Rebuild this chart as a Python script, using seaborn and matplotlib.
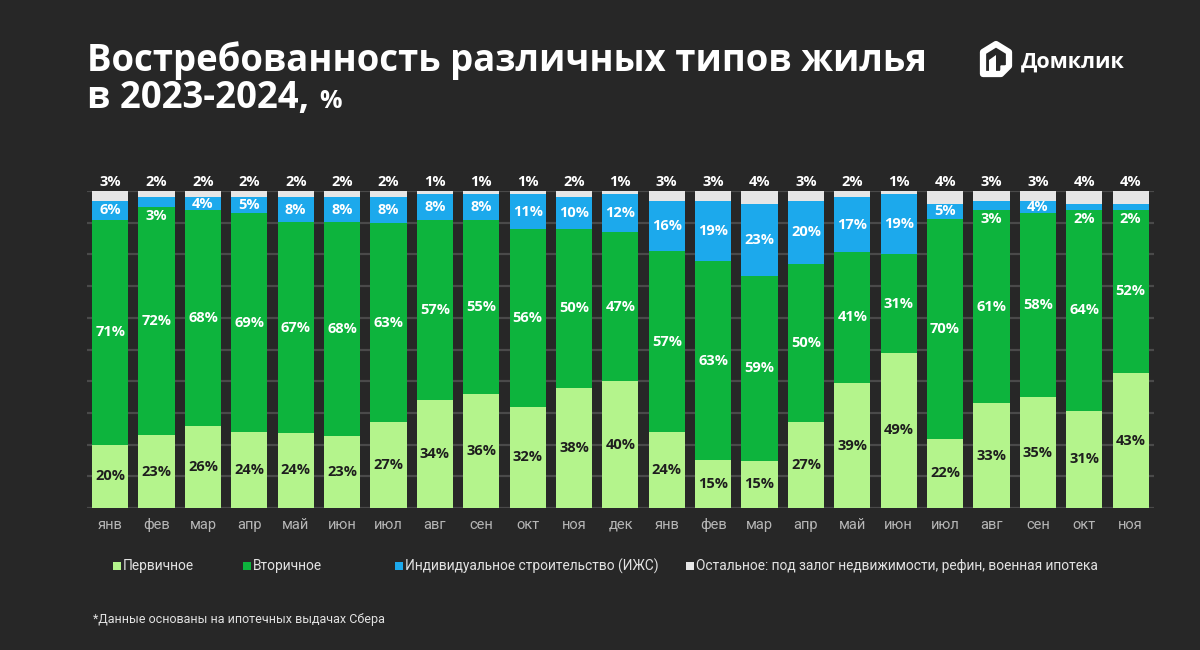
import numpy as np
import pandas as pd
import matplotlib.pyplot as plt
import seaborn as sns
from matplotlib.patches import Rectangle, Polygon

months = ['янв', 'фев', 'мар', 'апр', 'май', 'июн', 'июл', 'авг', 'сен', 'окт', 'ноя', 'дек',
          'янв', 'фев', 'мар', 'апр', 'май', 'июн', 'июл', 'авг', 'сен', 'окт', 'ноя']
primary = [20, 23, 26, 24, 24, 23, 27, 34, 36, 32, 38, 40, 24, 15, 15, 27, 39, 49, 22, 33, 35, 31, 43]
secondary = [71, 72, 68, 69, 67, 68, 63, 57, 55, 56, 50, 47, 57, 63, 59, 50, 41, 31, 70, 61, 58, 64, 52]
izhs = [6, 3, 4, 5, 8, 8, 8, 8, 8, 11, 10, 12, 16, 19, 23, 20, 17, 19, 5, 3, 4, 2, 2]
other = [3, 2, 2, 2, 2, 2, 2, 1, 1, 1, 2, 1, 3, 3, 4, 3, 2, 1, 4, 3, 3, 4, 4]

labels = ['Первичное', 'Вторичное', 'Индивидуальное строительство (ИЖС)',
          'Остальное: под залог недвижимости, рефин, военная ипотека']
colors = ['#b4f48c', '#0db43d', '#1ca9ec', '#e6e6e6']

BG = '#272727'
TITLE_FONT = ['Open Sans', 'DejaVu Sans']

sns.set_theme(style='dark')
plt.rcParams['font.family'] = ['Roboto', 'DejaVu Sans']

df = pd.DataFrame({'idx': range(len(months)), 'month': months, 'p': primary,
                   's': secondary, 'b': izhs, 'o': other})
df['total'] = df[['p', 's', 'b', 'o']].sum(axis=1)
# shares scaled so every bar reaches 100
scale = 100 / df['total']
df['c1'] = df['p'] * scale
df['c2'] = (df['p'] + df['s']) * scale
df['c3'] = (df['p'] + df['s'] + df['b']) * scale
df['c4'] = df['total'] * scale

fig = plt.figure(figsize=(12, 6.5), dpi=100, facecolor=BG)
ax = fig.add_axes([0.0725, 1 - 508 / 650, 0.889, (508 - 191) / 650])
ax.set_facecolor(BG)

for col, c in zip(['c4', 'c3', 'c2', 'c1'], colors[::-1]):
    sns.barplot(data=df, x='idx', y=col, color=c, width=0.78, saturation=1,
                edgecolor='none', linewidth=0, ax=ax, zorder=3)

ax.set_ylim(0, 100)
ax.set_xlim(-0.5, len(months) - 0.5)
ax.set_yticks(np.arange(0, 101, 10))
ax.yaxis.grid(True, color='#4a4a4a', linewidth=1.6, zorder=0)
ax.xaxis.grid(False)
ax.set_yticklabels([])
ax.tick_params(left=False, bottom=False, axis='both', pad=1)
ax.set_xticks(range(len(months)))
ax.set_xticklabels(months, color='#b5b5b5', fontsize=10.5)
ax.set_xlabel('')
ax.set_ylabel('')
for sp in ax.spines.values():
    sp.set_visible(False)

lab = dict(fontsize=10.5, fontweight='bold', ha='center', va='center', zorder=5,
           family=TITLE_FONT)
for i, r in df.iterrows():
    ax.text(i, r['c1'] / 2, f"{r['p']}%", color='#1e1e1e', **lab)
    ax.text(i, (r['c1'] + r['c2']) / 2, f"{r['s']}%", color='white', **lab)
    if r['b'] >= 4:
        yb = (r['c2'] + r['c3']) / 2
    else:
        yb = r['c2'] - 2.8
    ax.text(i, yb, f"{r['b']}%", color='white', **lab)
    ax.text(i, 102.8, f"{r['o']}%", color='white', clip_on=False, **lab)

# title
fig.text(87 / 1200, 1 - 71 / 650, 'Востребованность различных типов жилья',
         color='white', fontsize=26.3, fontweight='bold', va='baseline', family=TITLE_FONT)
t2 = fig.text(87 / 1200, 1 - 108 / 650, 'в 2023-2024, ', color='white',
              fontsize=26.3, fontweight='bold', va='baseline', family=TITLE_FONT)
fig.canvas.draw()
bb = t2.get_window_extent()
fig.text(bb.x1 / 1200, 1 - 108 / 650, '%', color='white', fontsize=18,
         fontweight='bold', va='baseline', family=TITLE_FONT)

# logo
def px(x, y):
    return (x / 1200, 1 - y / 650)

house = [px(983, 74), px(983, 52), px(996, 44), px(1009, 52), px(1009, 66), px(1001, 74)]
fig.patches.append(Polygon(house, closed=True, fill=False, edgecolor='white',
                           linewidth=4.5, joinstyle='round', transform=fig.transFigure))
fig.patches.append(Polygon([px(1001, 74), px(1009, 66), px(1001, 66)], closed=True,
                           facecolor='white', edgecolor='white', transform=fig.transFigure))
fig.patches.append(Polygon([px(989, 74), px(989, 60), px(996, 55), px(996, 74)], closed=True,
                           facecolor='white', edgecolor='none', transform=fig.transFigure))
fig.text(1021 / 1200, 1 - 62 / 650, 'Домклик', color='white', fontsize=15.5,
         fontweight='bold', va='center', family=TITLE_FONT)

# legend
leg_x = [117, 247, 399, 690]
for x, c, l in zip(leg_x, colors, labels):
    fig.patches.append(Rectangle(px(x - 4, 570), 8 / 1200, 8 / 650, facecolor=c,
                                 edgecolor='none', transform=fig.transFigure))
    fig.text((x + 6) / 1200, 1 - 566 / 650, l, color='#e2e2e2', fontsize=9.9,
             va='center')

fig.text(93 / 1200, 1 - 620 / 650, '*Данные основаны на ипотечных выдачах Сбера',
         color='#e2e2e2', fontsize=9, va='center')

fig.savefig('out.png', dpi=100, facecolor=BG)
